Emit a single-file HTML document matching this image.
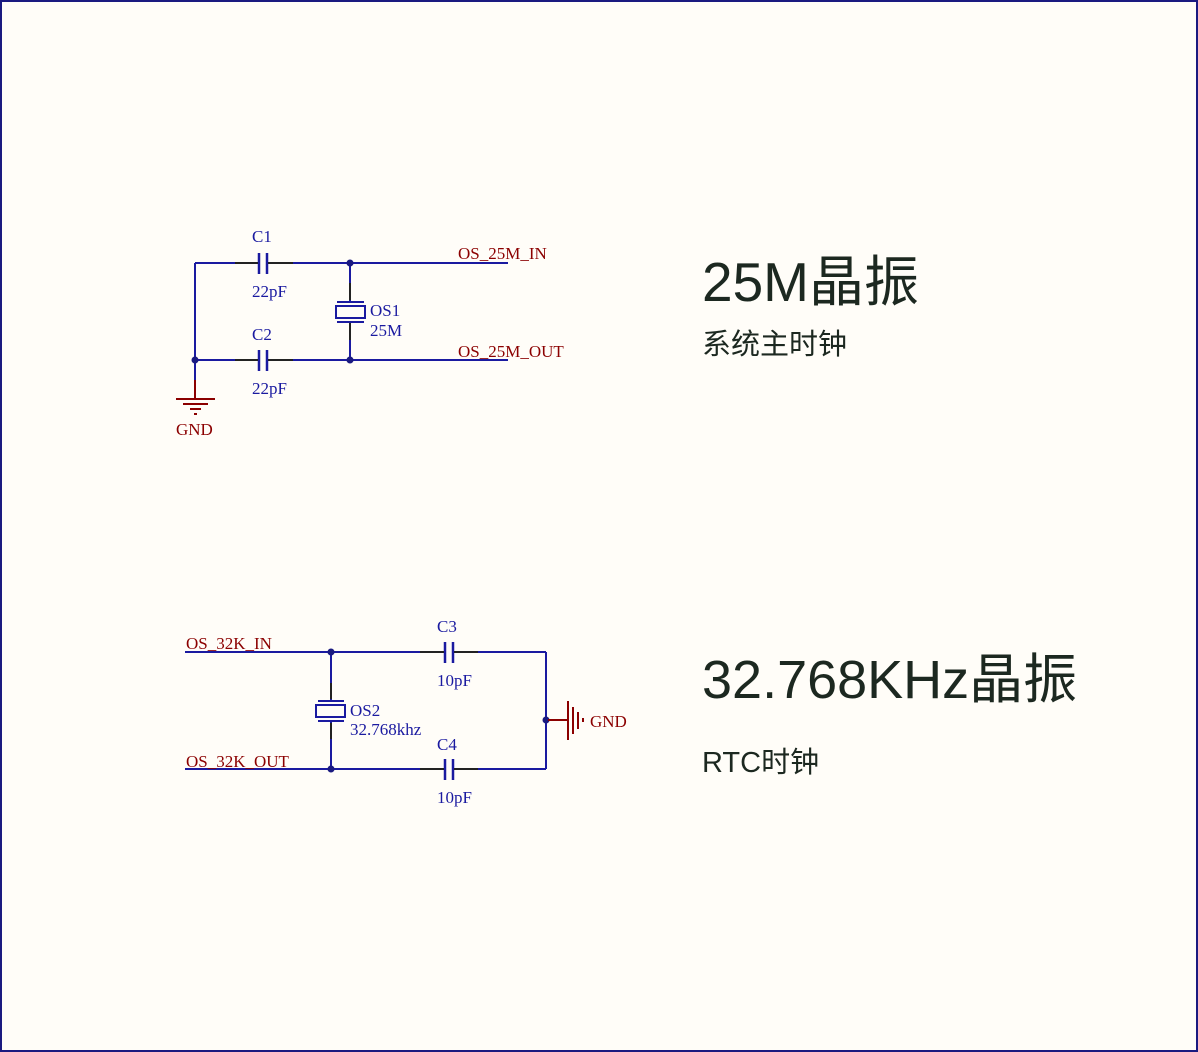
<!DOCTYPE html>
<html><head><meta charset="utf-8"><style>
html,body{margin:0;padding:0;background:#fffdf8;}
.wrap{position:relative;width:1198px;height:1052px;box-sizing:border-box;border:2px solid #1a1a80;background:#fffdf8;overflow:hidden;}
svg{position:absolute;left:-2px;top:-2px;}
.t{font-family:"Liberation Serif",serif;font-size:17px;}
.b{fill:#1a1aa0}.r{fill:#8b0000}
.big{font-family:"Liberation Sans","Noto Sans CJK SC",sans-serif;fill:#1c2820;}
</style></head><body><div class="wrap">
<svg width="1198" height="1052" viewBox="0 0 1198 1052">
<g stroke="#1a1aa0" stroke-width="2" fill="none">
<line x1="195" y1="263" x2="259" y2="263"/><line x1="267" y1="263" x2="508" y2="263"/>
<line x1="195" y1="360" x2="259" y2="360"/><line x1="267" y1="360" x2="508" y2="360"/>
<line x1="195" y1="263" x2="195" y2="380"/>
<line x1="350" y1="263" x2="350" y2="301"/><line x1="350" y1="322" x2="350" y2="360"/>
<line x1="259" y1="253" x2="259" y2="274" stroke-width="2.5"/><line x1="267" y1="253" x2="267" y2="274" stroke-width="2.5"/>
<line x1="259" y1="350" x2="259" y2="371" stroke-width="2.5"/><line x1="267" y1="350" x2="267" y2="371" stroke-width="2.5"/>
<line x1="337" y1="302" x2="364" y2="302"/><rect x="336" y="306" width="29" height="12"/><line x1="337" y1="322" x2="364" y2="322"/>
<line x1="185" y1="652" x2="445" y2="652"/><line x1="453" y1="652" x2="546" y2="652"/>
<line x1="185" y1="769" x2="445" y2="769"/><line x1="453" y1="769" x2="546" y2="769"/>
<line x1="546" y1="652" x2="546" y2="769"/>
<line x1="331" y1="652" x2="331" y2="700"/><line x1="331" y1="722" x2="331" y2="769"/>
<line x1="445" y1="642" x2="445" y2="663" stroke-width="2.5"/><line x1="453" y1="642" x2="453" y2="663" stroke-width="2.5"/>
<line x1="445" y1="759" x2="445" y2="780" stroke-width="2.5"/><line x1="453" y1="759" x2="453" y2="780" stroke-width="2.5"/>
<line x1="318" y1="701" x2="344" y2="701"/><rect x="316" y="705" width="29" height="12"/><line x1="318" y1="721" x2="344" y2="721"/>
</g>
<g stroke="#222" stroke-width="2">
<line x1="235" y1="263" x2="258" y2="263"/><line x1="268" y1="263" x2="293" y2="263"/>
<line x1="235" y1="360" x2="258" y2="360"/><line x1="268" y1="360" x2="293" y2="360"/>
<line x1="350" y1="283" x2="350" y2="300"/><line x1="350" y1="323" x2="350" y2="340"/>
<line x1="420" y1="652" x2="444" y2="652"/><line x1="454" y1="652" x2="478" y2="652"/>
<line x1="420" y1="769" x2="444" y2="769"/><line x1="454" y1="769" x2="478" y2="769"/>
<line x1="331" y1="683" x2="331" y2="699"/><line x1="331" y1="723" x2="331" y2="739"/>
</g>
<g fill="#1a1a80">
<circle cx="350" cy="263" r="3.5"/><circle cx="350" cy="360" r="3.5"/><circle cx="195" cy="360" r="3.5"/>
<circle cx="331" cy="652" r="3.5"/><circle cx="331" cy="769" r="3.5"/><circle cx="546" cy="720" r="3.5"/>
</g>
<g stroke="#8b0000" stroke-width="2">
<line x1="195" y1="380" x2="195" y2="399"/>
<line x1="176" y1="399" x2="215" y2="399"/><line x1="183" y1="404" x2="208" y2="404"/><line x1="190" y1="409" x2="201" y2="409"/><line x1="194" y1="414" x2="197" y2="414"/>
<line x1="548" y1="720" x2="568" y2="720"/>
<line x1="568" y1="701" x2="568" y2="740"/><line x1="573" y1="707" x2="573" y2="734"/><line x1="578" y1="712" x2="578" y2="729"/><line x1="583" y1="718" x2="583" y2="722"/>
</g>
<g class="t">
<text class="b" x="252" y="242">C1</text><text class="b" x="252" y="297">22pF</text>
<text class="b" x="252" y="340">C2</text><text class="b" x="252" y="394">22pF</text>
<text class="b" x="370" y="316">OS1</text><text class="b" x="370" y="336">25M</text>
<text class="r" x="458" y="259">OS_25M_IN</text><text class="r" x="458" y="357">OS_25M_OUT</text>
<text class="r" x="176" y="435">GND</text>
<text class="r" x="186" y="649">OS_32K_IN</text><text class="r" x="186" y="767">OS_32K_OUT</text>
<text class="b" x="437" y="632">C3</text><text class="b" x="437" y="686">10pF</text>
<text class="b" x="437" y="750">C4</text><text class="b" x="437" y="803">10pF</text>
<text class="b" x="350" y="716">OS2</text><text class="b" x="350" y="735">32.768khz</text>
<text class="r" x="590" y="727">GND</text>
</g>
<text class="big" x="702" y="301" font-size="55">25M晶振</text>
<text class="big" x="702" y="354" font-size="29">系统主时钟</text>
<text class="big" x="702" y="698" font-size="54">32.768KHz晶振</text>
<text class="big" x="702" y="772" font-size="29">RTC时钟</text>
</svg>
</div></body></html>
